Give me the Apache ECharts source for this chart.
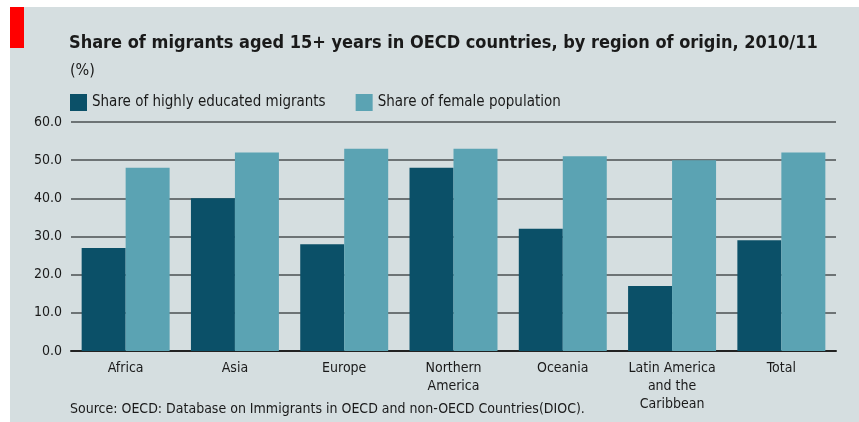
<!DOCTYPE html>
<html><head><meta charset="utf-8">
<script src="https://cdn.jsdelivr.net/npm/echarts@6/dist/echarts.min.js"></script>
<style>html,body{margin:0;padding:0;background:#fff}#c{width:859px;height:422px}</style>
</head><body><div id="c"></div>
<script>
const categories = ['Africa','Asia','Europe','Northern\nAmerica','Oceania','Latin America\nand the\nCaribbean','Total'];
const highlyEducated = [27, 40, 28, 48, 32, 17, 29];
const femaleShare = [48, 52, 53, 53, 51, 50, 52];
const yTicks = [0, 10, 20, 30, 40, 50, 60];
const seriesNames = ['Share of highly educated migrants', 'Share of female population'];

const FONT = "'DejaVu Sans Condensed', 'DejaVu Sans', sans-serif";
const chart = echarts.init(document.getElementById('c'), null, {renderer:'canvas'});
chart.setOption({
  backgroundColor: '#ffffff',
  animation: false,
  textStyle: {fontFamily: FONT},
  graphic: [
    {type:'rect', shape:{x:10, y:7, width:849, height:415}, style:{fill:'#d5dee0'}, z:-10},
    {type:'rect', shape:{x:10, y:7, width:14, height:41}, style:{fill:'#ff0000'}, z:-5},
    {type:'text', left:69, top:34, style:{text:'Share of migrants aged 15+ years in OECD countries, by region of origin, 2010/11', font:"bold 18px 'DejaVu Sans Condensed', sans-serif", fill:'#1a1a1a'}},
    {type:'text', left:70, top:63, style:{text:'(%)', font:"16px 'DejaVu Sans Condensed', sans-serif", fill:'#1a1a1a'}},
    {type:'text', left:70, top:402, style:{text:'Source: OECD: Database on Immigrants in OECD and non-OECD Countries(DIOC).', font:"14px 'DejaVu Sans Condensed', sans-serif", fill:'#1a1a1a'}}
  ],
  legend: {
    left: 65, top: 89, itemWidth: 17, itemHeight: 17, itemGap: 30,
    icon: 'rect',
    textStyle: {fontSize: 15, color:'#1a1a1a', fontFamily: FONT},
    data: seriesNames
  },
  grid: {left: 71, right: 23, top: 122, bottom: 71},
  xAxis: {
    type: 'category', data: categories,
    axisLine: {show: true, lineStyle: {color:'#222', width: 2}},
    axisTick: {show: false},
    axisLabel: {color:'#1a1a1a', fontSize: 14, lineHeight: 18, margin: 8, interval: 0, fontFamily: FONT}
  },
  yAxis: {
    type: 'value', min: 0, max: 60, interval: 10,
    axisLine: {show: false},
    axisTick: {show: false},
    splitLine: {lineStyle: {color:'#4a4f52', width: 1.5}},
    axisLabel: {color:'#1a1a1a', fontSize: 14, margin: 9, fontFamily: FONT,
      formatter: v => yTicks.includes(v) ? v.toFixed(1) : ''}
  },
  series: [
    {name: seriesNames[0], type:'bar', data: highlyEducated, barGap: '0%', barCategoryGap: '19.5%', itemStyle:{color:'#0b5068'}},
    {name: seriesNames[1], type:'bar', data: femaleShare, barGap: '0%', barCategoryGap: '19.5%', itemStyle:{color:'#5ba3b3'}}
  ]
});
</script></body></html>
